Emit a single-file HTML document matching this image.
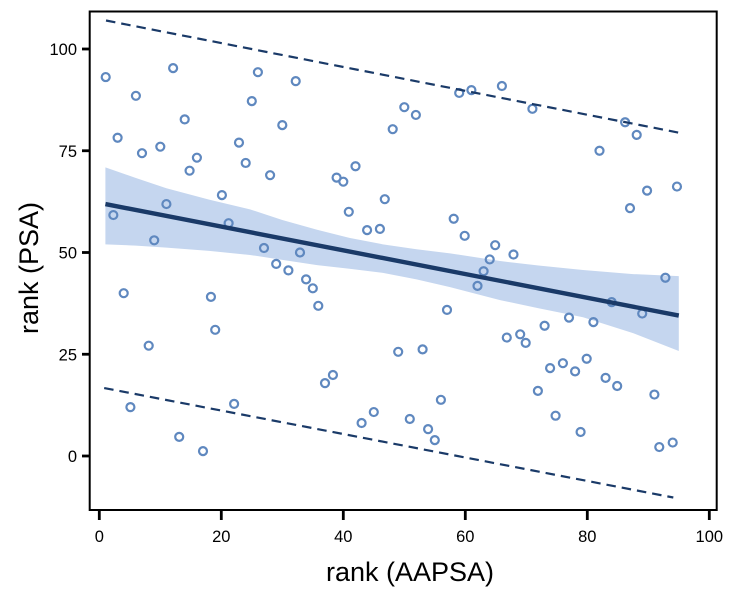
<!DOCTYPE html>
<html lang="en">
<head>
<meta charset="utf-8">
<title>rank (PSA) vs rank (AAPSA)</title>
<style>
html,body{margin:0;padding:0;background:#fff;width:750px;height:602px;overflow:hidden}
svg{display:block;font-family:"Liberation Sans",sans-serif}
</style>
</head>
<body>
<svg id="chart" width="750" height="602" viewBox="0 0 750 602" xmlns="http://www.w3.org/2000/svg">
  <g id="band-layer"></g>
  <g id="points-layer"></g>
  <g id="lines-layer"></g>
  <rect x="89.7" y="11.5" width="627" height="498.5" fill="none" stroke="#000" stroke-width="2"></rect>
  <g id="axes-layer"></g>
  <text x="410" y="581" text-anchor="middle" font-size="27" fill="#000">rank (AAPSA)</text>
  <text transform="translate(38 268) rotate(-90)" text-anchor="middle" font-size="27" fill="#000">rank (PSA)</text>
</svg>
<script>
const xTicks = [0, 20, 40, 60, 80, 100];
const yTicks = [0, 25, 50, 75, 100];

const pointsX = [1.05,2.3,3,4,5.1,6,7,8.1,9,10,11,12.1,13.1,14,14.8,16,17,18.3,19,20.1,21.2,22.1,22.9,24,25,26,27,28,29,30,31,32.2,32.9,33.9,35,35.9,37,38.3,38.9,40,40.9,42,43,43.9,45,46,46.8,48.1,49,50,50.9,51.9,53,53.9,55,56,57,58.1,59,59.9,61,62,63,64,64.9,66,66.8,67.9,69,69.9,71,71.9,73,73.9,74.8,76,77,78,78.9,79.9,81,82,83,84,84.9,86.2,87,88.1,89,89.8,91,91.8,92.8,94,94.7];
const pointsY = [93.1,59.2,78.2,40,12,88.5,74.4,27.1,53,76,61.9,95.3,4.7,82.7,70.1,73.3,1.2,39.1,31,64.1,57.2,12.8,77,72,87.2,94.3,51.1,69,47.2,81.3,45.6,92.1,50,43.4,41.2,36.9,17.9,19.9,68.4,67.4,60,71.2,8.1,55.5,10.8,55.8,63.1,80.3,25.6,85.7,9.1,83.8,26.2,6.6,3.9,13.8,35.9,58.3,89.2,54.1,89.9,41.8,45.4,48.3,51.8,90.9,29.1,49.5,29.9,27.8,85.3,16,32,21.6,9.9,22.8,34,20.8,5.9,23.9,32.9,75,19.2,37.8,17.2,82,60.9,78.9,35,65.2,15.1,2.2,43.8,3.3,66.2];

const bandX = [1, 6, 11, 18, 24.7, 30, 35.7, 41, 46.5, 52, 57.5, 65.7, 72, 79.3, 87.5, 95];
const bandUpper = [70.9, 68.3, 65.8, 63, 60.6, 58, 55.6, 53.6, 52, 50.8, 49.8, 47.9, 46.8, 45.7, 44.7, 44.2];
const bandLower = [52, 51.7, 51.2, 50.4, 49.4, 48.2, 46.9, 46, 45, 43.4, 41.5, 38.3, 36.3, 34.1, 30.2, 25.8];

const fitX = [1, 95];
const fitY = [61.9, 34.5];

const upperLimitX = [1.1, 95.5];
const upperLimitY = [107, 79.3];
const lowerLimitX = [0.8, 94.1];
const lowerLimitY = [16.7, -10.2];

const NS = 'http://www.w3.org/2000/svg';
function sx(v) { return 99.3 + v * 6.1; }
function sy(v) { return 456 - v * 4.07; }
function make(tag, parent) {
  const el = document.createElementNS(NS, tag);
  parent.appendChild(el);
  return el;
}

const bandLayer = document.getElementById('band-layer');
const pointsLayer = document.getElementById('points-layer');
const linesLayer = document.getElementById('lines-layer');
const axesLayer = document.getElementById('axes-layer');

const band = make('polygon', bandLayer);


const upperPts = bandX.map((x, i) => sx(x) + ',' + sy(bandUpper[i]));
const lowerPts = bandX.map((x, i) => sx(x) + ',' + sy(bandLower[i])).reverse();
band.setAttribute('points', upperPts.concat(lowerPts).join(' '));
band.setAttribute('fill', '#c5d6ef');

pointsX.forEach((x, i) => {
  const c = make('circle', pointsLayer);
  
  
  c.setAttribute('cx', sx(x));
  c.setAttribute('cy', sy(pointsY[i]));
  c.setAttribute('r', 4);
  c.setAttribute('fill', 'none');
  c.setAttribute('stroke', '#5f88bf');
  c.setAttribute('stroke-width', 2.2);
});

const fit = make('line', linesLayer);


fit.setAttribute('x1', sx(fitX[0]));
fit.setAttribute('y1', sy(fitY[0]));
fit.setAttribute('x2', sx(fitX[1]));
fit.setAttribute('y2', sy(fitY[1]));
fit.setAttribute('stroke', '#1a3a68');
fit.setAttribute('stroke-width', 4.4);

const upperLimit = make('line', linesLayer);


upperLimit.setAttribute('x1', sx(upperLimitX[0]));
upperLimit.setAttribute('y1', sy(upperLimitY[0]));
upperLimit.setAttribute('x2', sx(upperLimitX[1]));
upperLimit.setAttribute('y2', sy(upperLimitY[1]));
upperLimit.setAttribute('stroke', '#1a3a68');
upperLimit.setAttribute('stroke-width', 2.2);
upperLimit.setAttribute('stroke-dasharray', '9.5 6');

const lowerLimit = make('line', linesLayer);


lowerLimit.setAttribute('x1', sx(lowerLimitX[0]));
lowerLimit.setAttribute('y1', sy(lowerLimitY[0]));
lowerLimit.setAttribute('x2', sx(lowerLimitX[1]));
lowerLimit.setAttribute('y2', sy(lowerLimitY[1]));
lowerLimit.setAttribute('stroke', '#1a3a68');
lowerLimit.setAttribute('stroke-width', 2.2);
lowerLimit.setAttribute('stroke-dasharray', '9.5 6');

xTicks.forEach((t) => {
  const tick = make('line', axesLayer);
  
  
  tick.setAttribute('x1', sx(t));
  tick.setAttribute('x2', sx(t));
  tick.setAttribute('y1', 510);
  tick.setAttribute('y2', 520);
  tick.setAttribute('stroke', '#000');
  tick.setAttribute('stroke-width', 2.8);
  const label = make('text', axesLayer);
  
  
  label.setAttribute('x', sx(t));
  label.setAttribute('y', 542);
  label.setAttribute('text-anchor', 'middle');
  label.setAttribute('font-size', 16.5);
  label.textContent = t;
});

yTicks.forEach((t) => {
  const tick = make('line', axesLayer);
  
  
  tick.setAttribute('x1', 82);
  tick.setAttribute('x2', 90);
  tick.setAttribute('y1', sy(t));
  tick.setAttribute('y2', sy(t));
  tick.setAttribute('stroke', '#000');
  tick.setAttribute('stroke-width', 2.8);
  const label = make('text', axesLayer);
  
  
  label.setAttribute('x', 77);
  label.setAttribute('y', sy(t) + 6);
  label.setAttribute('text-anchor', 'end');
  label.setAttribute('font-size', 16.5);
  label.textContent = t;
});
</script>
</body>
</html>
